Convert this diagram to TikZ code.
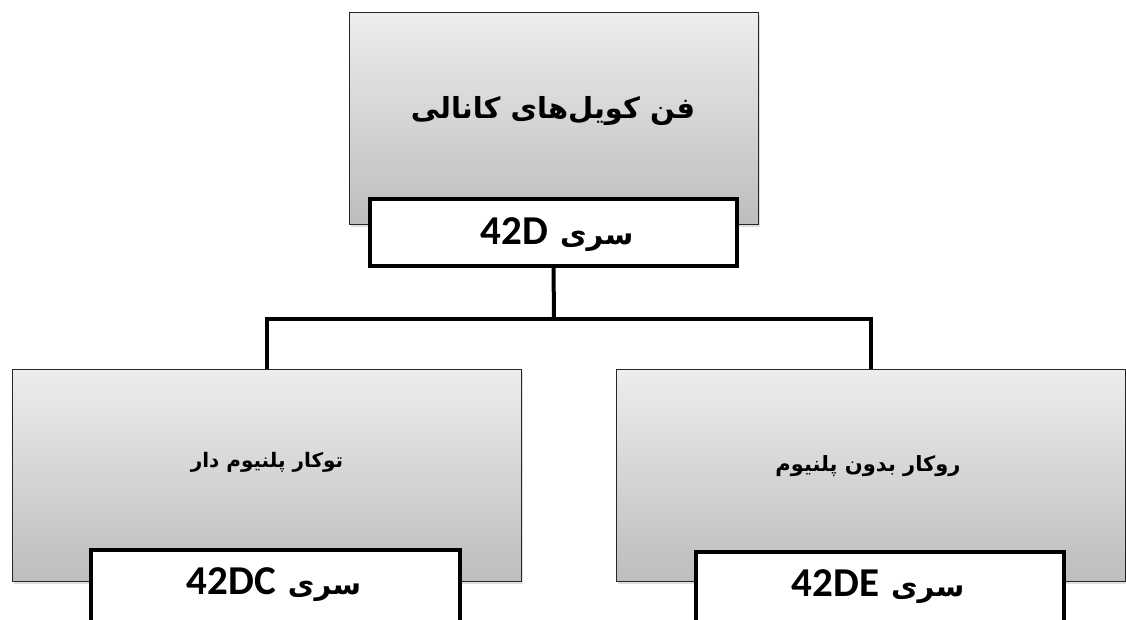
\documentclass[tikz,border=0pt]{standalone}
\usepackage{fontspec}
\usetikzlibrary{shadows}
\TeXXeTstate=1
\newfontfamily\arfont[Script=Arabic]{DejaVu Sans}
\newfontfamily\latfont{Carlito}
\definecolor{gtop}{HTML}{EDEDED}
\definecolor{gbot}{HTML}{BDBDBD}
\newcommand{\serieslabel}[1]{\beginR{\fontsize{29}{34}\selectfont\arfont\bfseries سری}\kern12pt\beginL{\fontsize{41}{46}\selectfont\latfont\bfseries #1}\endL\endR}
\tikzset{
  graybox/.style={rectangle, draw=black!85, line width=1pt, top color=gtop, bottom color=gbot,
    inner sep=0pt, outer sep=0pt,
    drop shadow={opacity=0.25, shadow xshift=2pt, shadow yshift=-3pt}},
  labelbox/.style={rectangle, draw=black, line width=4pt, fill=white, inner sep=0pt, outer sep=0pt},
  conn/.style={draw=black, line width=4pt},
  txt/.style={inner sep=0pt, outer sep=0pt, font=\bfseries},
  lbl/.style={inner sep=0pt, outer sep=0pt, anchor=base}
}
\begin{document}
\begin{tikzpicture}[x=1pt,y=-1pt]
\useasboundingbox (0,0) rectangle (1126,620);
\clip (0,0) rectangle (1126,620);
% top
\node[graybox, minimum width=409pt, minimum height=212pt] (top) at (553.5,118.5) {};
\node[txt] (toptxt) at (553,111) {\fontsize{29}{34}\selectfont\arfont\bfseries\beginR فن کویل‌های کانالی\endR};
\node[labelbox, minimum width=367pt, minimum height=67pt] (tl) at (553.5,232.5) {};
\node[lbl] (tltxt) at (557,244) {\serieslabel{42D}};
% left
\node[graybox, minimum width=509pt, minimum height=212pt] (lb) at (266.5,475) {};
\node[txt] (lbtxt) at (267,462) {\fontsize{20}{24}\selectfont\arfont\bfseries\beginR توکار پلنیوم دار\endR};
\node[labelbox, minimum width=369pt, minimum height=80pt] (ll) at (275.5,590) {};
\node[lbl] (lltxt) at (274,594) {\serieslabel{42DC}};
% right
\node[graybox, minimum width=509pt, minimum height=212pt] (rb) at (870.5,475) {};
\node[txt] (rbtxt) at (868,466) {\fontsize{21}{25}\selectfont\arfont\bfseries\beginR روکار بدون پلنیوم\endR};
\node[labelbox, minimum width=368pt, minimum height=80pt] (rl) at (880,592) {};
\node[lbl] (rltxt) at (878,596) {\serieslabel{42DE}};
% connectors
\coordinate (bus) at (554,319);
\draw[conn] (tl.south) -- (bus);
\draw[conn] (lb.north) |- (bus) -| (rb.north);
\end{tikzpicture}
\end{document}
